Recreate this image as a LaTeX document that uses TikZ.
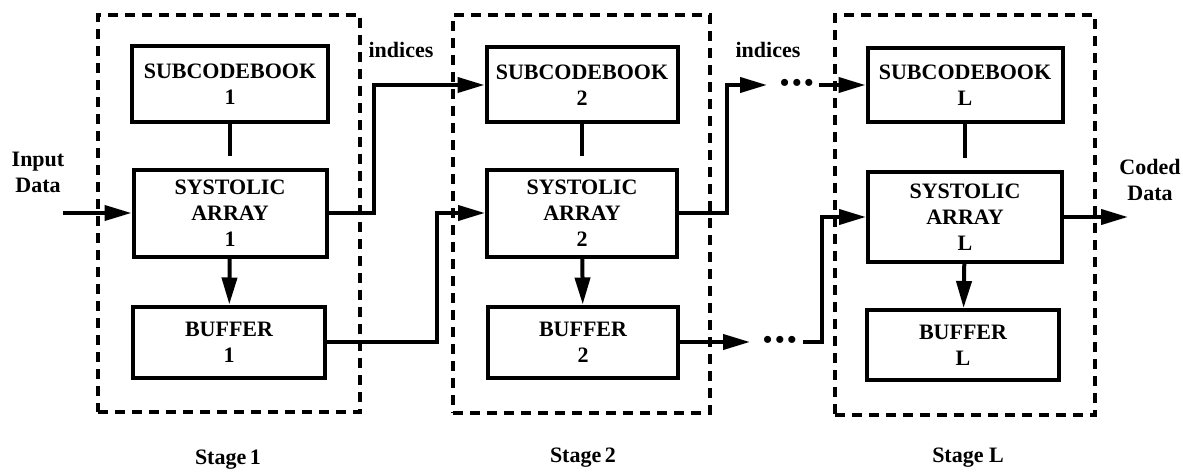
\documentclass[tikz,border=0pt]{standalone}
\usepackage{fontspec}
\setmainfont{Liberation Serif}
\usetikzlibrary{arrows.meta}
\newcommand{\lblfont}{\fontsize{22}{26}\selectfont\bfseries}
\newcommand{\dotsfont}{\fontsize{26}{26}\selectfont\bfseries}
\begin{document}
\begin{tikzpicture}[x=1pt,y=-1pt,
  blk/.style={draw, line width=4pt, align=center, font=\lblfont, inner sep=0pt},
  stagebox/.style={draw, line width=3.5pt, dash pattern=on 10pt off 7pt, inner sep=0pt},
  lbl/.style={align=center, font=\lblfont, inner sep=0pt},
  con/.style={line width=4pt},
  arr/.style={line width=4pt, -{Triangle[length=27pt,width=15pt]}},
  dotsn/.style={font=\dotsfont, inner sep=0pt, anchor=west}]
\useasboundingbox (0,0) rectangle (1183,476);
% stage frames
\node[stagebox, minimum width=262, minimum height=397] (st1) at (229,213.5) {};
\node[stagebox, minimum width=257, minimum height=398] (st2) at (581.5,214) {};
\node[stagebox, minimum width=260, minimum height=400] (stL) at (965,215) {};
% stage 1
\node[blk, minimum width=196, minimum height=76] (sub1) at (230,84) {SUBCODEBOOK\\1};
\node[blk, minimum width=193, minimum height=87] (sys1) at (230,213) {SYSTOLIC\\ARRAY\\1};
\node[blk, minimum width=192, minimum height=71] (buf1) at (229,342) {BUFFER\\1};
% stage 2
\node[blk, minimum width=191, minimum height=75] (sub2) at (582,85) {SUBCODEBOOK\\2};
\node[blk, minimum width=190, minimum height=87] (sys2) at (582,213) {SYSTOLIC\\ARRAY\\2};
\node[blk, minimum width=190, minimum height=71] (buf2) at (583,342) {BUFFER\\2};
% stage L
\node[blk, minimum width=195, minimum height=74] (subL) at (965,85) {SUBCODEBOOK\\L};
\node[blk, minimum width=194, minimum height=90] (sysL) at (965,217) {SYSTOLIC\\ARRAY\\L};
\node[blk, minimum width=192, minimum height=70] (bufL) at (963,345) {BUFFER\\L};
% labels
\node[lbl] (inlbl) at (38,172) {Input\\Data};
\node[lbl] (outlbl) at (1150,180) {Coded\\Data};
\node[lbl] (ind1) at (401,50) {indices};
\node[lbl] (ind2) at (768,50) {indices};
\node[lbl] (s1) at (228,460) {Stage\,1};
\node[lbl] (s2) at (583,458) {Stage\,2};
\node[lbl] (sL) at (968,458) {Stage L};
% vertical connectors
\draw[con, shorten >=12pt] (sub1) -- (sys1);
\draw[con, shorten >=12pt] (sub2) -- (sys2);
\draw[con, shorten >=12pt] (subL) -- (sysL);
\draw[arr] (sys1) -- (buf1);
\draw[arr] (sys2) -- (buf2);
\draw[arr] (sysL) -- (bufL);
% input / output
\coordinate (inpt) at (63,213);
\draw[arr] (inpt) -- (sys1.west);
\coordinate (outpt) at (1128,217);
\draw[arr] (sysL.east) -- (outpt);
% stage 1 -> stage 2
\draw[arr] (sys1.east) -- ++(45,0) |- (sub2.west);
\draw[arr] (buf1.east) -- ++(110,0) |- (sys2.west);
% stage 2 -> ... -> stage L (top)
\coordinate (a2) at (767,85);
\draw[arr] (sys2.east) -- ++(48,0) |- (a2);
\node[dotsn] (dots1) at (780,85) {•\hspace{3pt}•\hspace{3pt}•};
\coordinate (a3) at (819,85);
\draw[arr] (a3) -- (subL.west);
% stage 2 -> ... -> stage L (bottom)
\coordinate (b2) at (750,342);
\draw[arr] (buf2.east) -- (b2);
\node[dotsn] (dots2) at (763,342) {•\hspace{3pt}•\hspace{3pt}•};
\coordinate (b3) at (803,342);
\draw[arr] (b3) -- ++(19,0) |- (sysL.west);
\end{tikzpicture}
\end{document}
